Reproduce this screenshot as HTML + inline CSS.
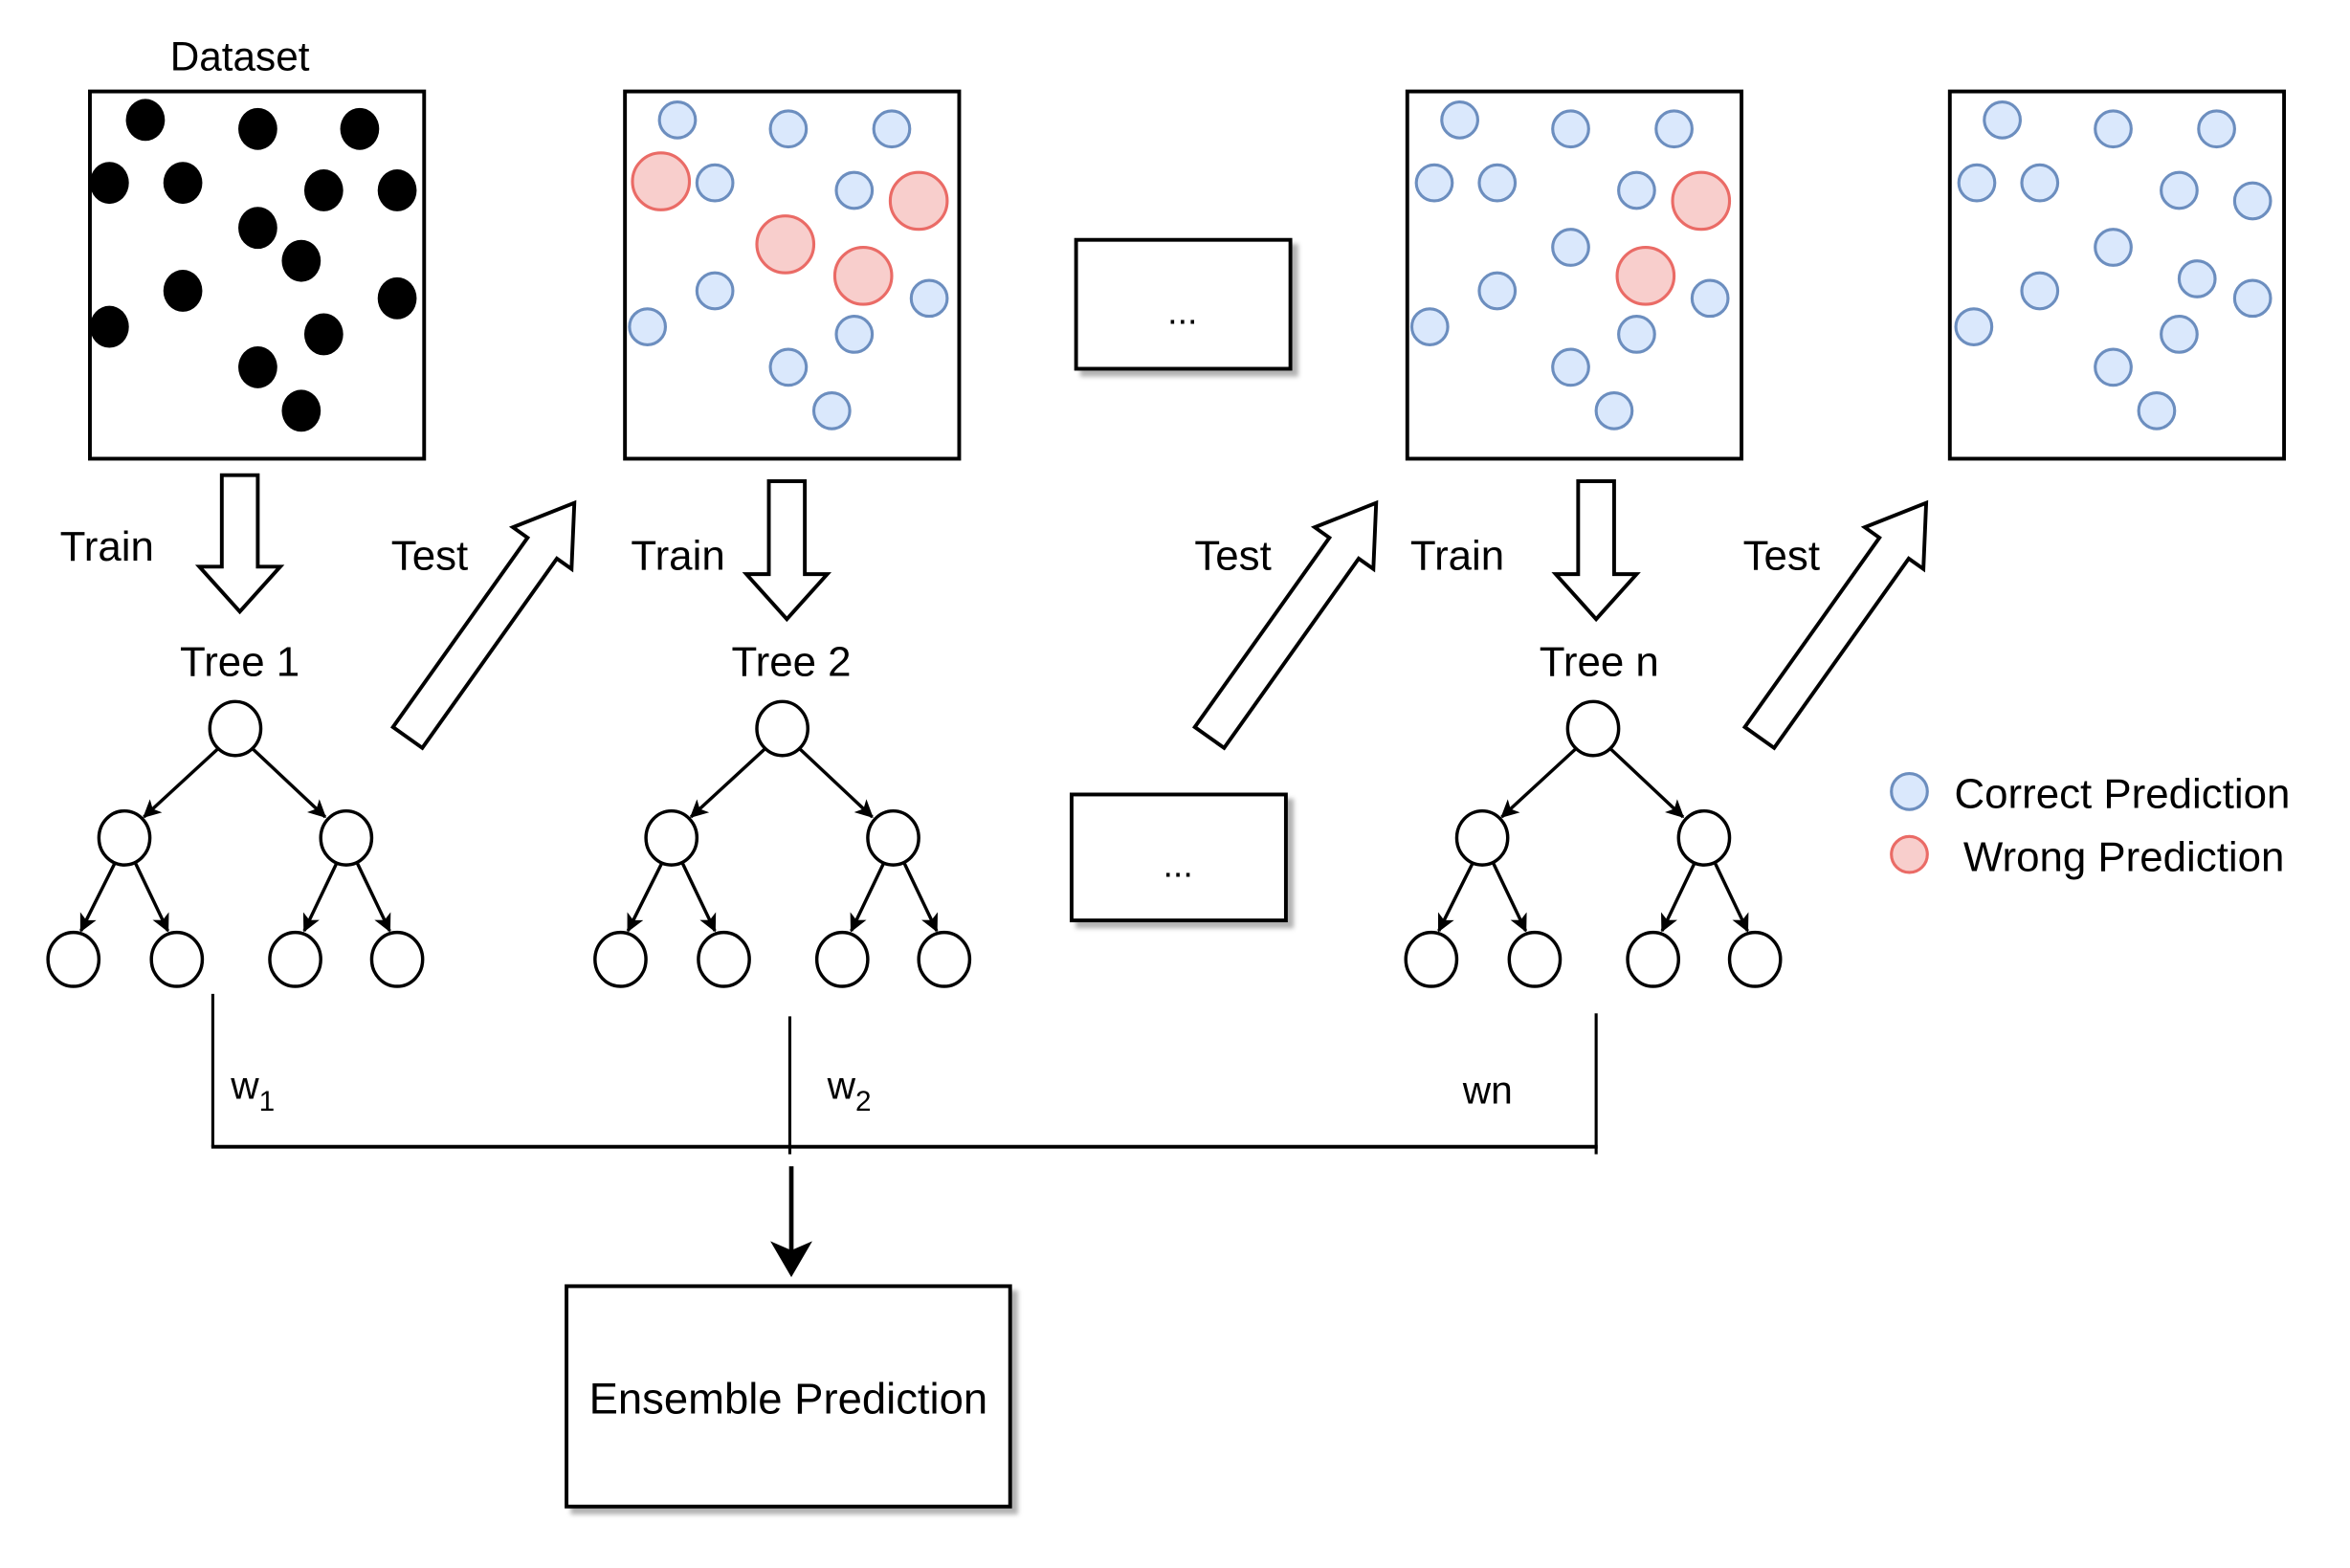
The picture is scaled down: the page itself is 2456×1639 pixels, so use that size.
<!DOCTYPE html>
<html><head><meta charset="utf-8"><style>html,body{margin:0;padding:0;background:#fff}svg{display:block}</style></head>
<body>
<svg width="2456" height="1639" viewBox="0 0 1568 1046" preserveAspectRatio="none" xmlns="http://www.w3.org/2000/svg" font-family="'Liberation Sans', sans-serif">
<defs>
<marker id="ah" markerWidth="12" markerHeight="12" refX="11" refY="6" orient="auto" markerUnits="userSpaceOnUse"><path d="M0,0 L12,6 L0,12 L3,6 Z" fill="#000"/></marker>
<filter id="sh" x="-10%" y="-10%" width="130%" height="130%"><feDropShadow dx="4" dy="4" stdDeviation="1.5" flood-color="#000" flood-opacity="0.3"/></filter>
</defs>
<rect width="1568" height="1046" fill="#fff"/>
<text x="160" y="47" font-size="27" text-anchor="middle">Dataset</text>
<g fill="#fff" stroke="#000" stroke-width="2.5">
<rect x="60" y="61" width="223" height="245"/>
<rect x="417" y="61" width="223" height="245"/>
<rect x="939" y="61" width="223" height="245"/>
<rect x="1301" y="61" width="223" height="245"/>
</g>
<g fill="#000">
<ellipse cx="97" cy="80" rx="13" ry="14"/><ellipse cx="172" cy="86" rx="13" ry="14"/><ellipse cx="240" cy="86" rx="13" ry="14"/><ellipse cx="73" cy="122" rx="13" ry="14"/><ellipse cx="122" cy="122" rx="13" ry="14"/><ellipse cx="216" cy="127" rx="13" ry="14"/><ellipse cx="265" cy="127" rx="13" ry="14"/><ellipse cx="172" cy="152" rx="13" ry="14"/><ellipse cx="201" cy="174" rx="13" ry="14"/><ellipse cx="122" cy="194" rx="13" ry="14"/><ellipse cx="265" cy="199" rx="13" ry="14"/><ellipse cx="73" cy="218" rx="13" ry="14"/><ellipse cx="216" cy="223" rx="13" ry="14"/><ellipse cx="172" cy="245" rx="13" ry="14"/><ellipse cx="201" cy="274" rx="13" ry="14"/>
</g>
<g fill="#dae8fc" stroke="#6c8ebf" stroke-width="2">
<circle cx="452" cy="80" r="12"/><circle cx="526" cy="86" r="12"/><circle cx="595" cy="86" r="12"/><circle cx="477" cy="122" r="12"/><circle cx="570" cy="127" r="12"/><circle cx="477" cy="194" r="12"/><circle cx="620" cy="199" r="12"/><circle cx="432" cy="218" r="12"/><circle cx="570" cy="223" r="12"/><circle cx="526" cy="245" r="12"/><circle cx="555" cy="274" r="12"/>
<circle cx="974" cy="80" r="12"/><circle cx="1048" cy="86" r="12"/><circle cx="1117" cy="86" r="12"/><circle cx="957" cy="122" r="12"/><circle cx="999" cy="122" r="12"/><circle cx="1092" cy="127" r="12"/><circle cx="1048" cy="165" r="12"/><circle cx="999" cy="194" r="12"/><circle cx="1141" cy="199" r="12"/><circle cx="954" cy="218" r="12"/><circle cx="1092" cy="223" r="12"/><circle cx="1048" cy="245" r="12"/><circle cx="1077" cy="274" r="12"/>
<circle cx="1336" cy="80" r="12"/><circle cx="1410" cy="86" r="12"/><circle cx="1479" cy="86" r="12"/><circle cx="1319" cy="122" r="12"/><circle cx="1361" cy="122" r="12"/><circle cx="1454" cy="127" r="12"/><circle cx="1503" cy="134" r="12"/><circle cx="1410" cy="165" r="12"/><circle cx="1361" cy="194" r="12"/><circle cx="1466" cy="186" r="12"/><circle cx="1503" cy="199" r="12"/><circle cx="1317" cy="218" r="12"/><circle cx="1454" cy="223" r="12"/><circle cx="1410" cy="245" r="12"/><circle cx="1439" cy="274" r="12"/>
<circle cx="1274" cy="528" r="12"/>
</g>
<g fill="#f8cecc" stroke="#ea6b66" stroke-width="2">
<circle cx="441" cy="121" r="19"/><circle cx="524" cy="163" r="19"/><circle cx="613" cy="134" r="19"/><circle cx="576" cy="184" r="19"/>
<circle cx="1135" cy="134" r="19"/><circle cx="1098" cy="184" r="19"/>
<circle cx="1274" cy="570" r="12"/>
</g>
<g fill="#fff" stroke="#000" stroke-width="2.5" filter="url(#sh)">
<rect x="718" y="160" width="143" height="86"/>
<rect x="715" y="530" width="143" height="84"/>
<rect x="378" y="858" width="296" height="147"/>
</g>
<text x="789" y="216" font-size="24" text-anchor="middle">...</text>
<text x="786" y="585" font-size="24" text-anchor="middle">...</text>
<text x="526" y="943" font-size="29" text-anchor="middle">Ensemble Prediction</text>
<g fill="#fff" stroke="#000" stroke-width="2.5">
<path d="M148,317 H172 V378 H187 L160,408 L133,378 H148 Z"/>
<path d="M513,321 H537 V383 H552 L525,413 L498,383 H513 Z"/>
<path d="M1053,321 H1077 V383 H1092 L1065,413 L1038,383 H1053 Z"/>
<path transform="translate(272,492) rotate(-54.6)" d="M0,-12 H155 V-24 L192,0 L155,24 V12 H0 Z"/>
<path transform="translate(807,492) rotate(-54.6)" d="M0,-12 H155 V-24 L192,0 L155,24 V12 H0 Z"/>
<path transform="translate(1174,492) rotate(-54.6)" d="M0,-12 H155 V-24 L192,0 L155,24 V12 H0 Z"/>
</g>
<g font-size="28">
<text x="40" y="374">Train</text><text x="261" y="380">Test</text>
<text x="421" y="380">Train</text><text x="797" y="380">Test</text>
<text x="941" y="380">Train</text><text x="1163" y="380">Test</text>
<text x="160" y="451" text-anchor="middle">Tree 1</text>
<text x="528" y="451" text-anchor="middle">Tree 2</text>
<text x="1067" y="451" text-anchor="middle">Tree n</text>
<text x="1304" y="539">Correct Prediction</text>
<text x="1310" y="581">Wrong Prediction</text>
</g>
<g id="t1" stroke="#000" stroke-width="2.2" fill="none">
<line x1="146" y1="499" x2="96" y2="545" marker-end="url(#ah)"/>
<line x1="168" y1="499" x2="217" y2="545" marker-end="url(#ah)"/>
<line x1="77" y1="575" x2="54" y2="621" marker-end="url(#ah)"/>
<line x1="90" y1="575" x2="112" y2="621" marker-end="url(#ah)"/>
<line x1="225" y1="575" x2="203" y2="621" marker-end="url(#ah)"/>
<line x1="238" y1="575" x2="260" y2="621" marker-end="url(#ah)"/>
<g fill="#fff">
<ellipse cx="157" cy="486" rx="17" ry="18"/>
<ellipse cx="83" cy="559" rx="17" ry="18"/><ellipse cx="231" cy="559" rx="17" ry="18"/>
<ellipse cx="49" cy="640" rx="17" ry="18"/><ellipse cx="118" cy="640" rx="17" ry="18"/><ellipse cx="197" cy="640" rx="17" ry="18"/><ellipse cx="265" cy="640" rx="17" ry="18"/>
</g>
</g>
<use href="#t1" transform="translate(365,0)"/>
<use href="#t1" transform="translate(906,0)"/>
<g stroke="#000" stroke-width="2" fill="none">
<line x1="142" y1="663" x2="142" y2="765"/>
<line x1="527" y1="678" x2="527" y2="770"/>
<line x1="1065" y1="676" x2="1065" y2="770"/>
<line x1="141" y1="765" x2="1066" y2="765" stroke-width="2.5"/>
<line x1="528" y1="778" x2="528" y2="835" stroke-width="3"/>
</g>
<path d="M514,828 L528,852 L542,828 L528,834 Z" fill="#000"/>
<g font-size="26">
<text x="154" y="733">w<tspan font-size="19" dy="8">1</tspan></text>
<text x="552" y="733">w<tspan font-size="19" dy="8">2</tspan></text>
<text x="976" y="736">wn</text>
</g>
</svg>
</body></html>
